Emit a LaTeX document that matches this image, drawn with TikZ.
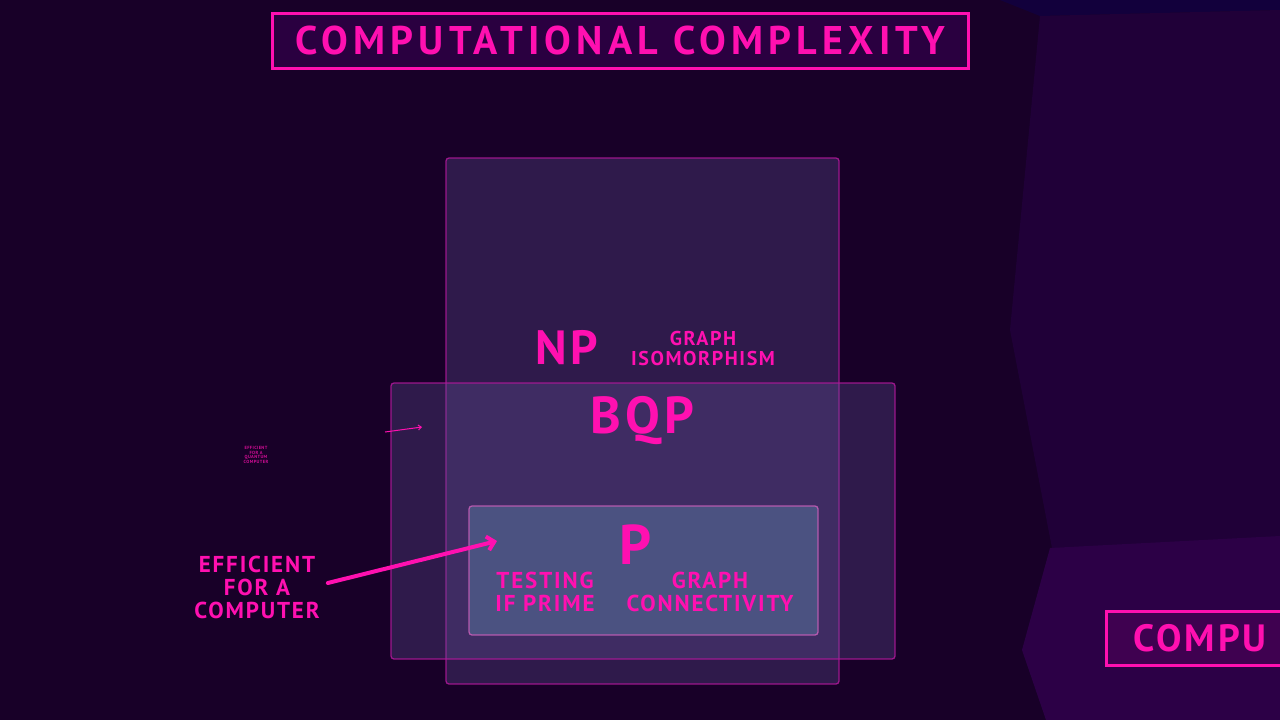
\documentclass[tikz,border=0pt]{standalone}
\usepackage{fontspec}
\setmainfont{PT Sans}
\usetikzlibrary{arrows.meta,positioning}

\definecolor{bgdark}{HTML}{180028}
\definecolor{topband}{HTML}{12003C}
\definecolor{panelhi}{HTML}{200038}
\definecolor{panellow}{HTML}{2C0046}
\definecolor{neonpink}{HTML}{FF10B0}
\definecolor{titlefill}{HTML}{2A0040}
\definecolor{classfill}{RGB}{101,87,157}
\definecolor{pfill}{RGB}{87,120,160}
\definecolor{boxedge}{HTML}{B0189A}

\newcommand{\sz}[1]{\fontsize{#1}{#1}\selectfont\addfontfeature{LetterSpace=8}}

\tikzset{
  neon/.style={text=neonpink, font=\bfseries\sz{#1}, inner sep=0pt, align=center},
  classbox/.style={draw=boxedge, draw opacity=0.85, line width=1.3pt,
    rounded corners=3pt, fill=classfill, fill opacity=0.3, inner sep=0pt},
  framebox/.style={draw=neonpink, line width=3pt, fill=titlefill, inner sep=0pt},
  pointer/.style={neonpink, line width=4pt, line cap=round,
    -{Straight Barb[length=7pt, width=14pt, line width=4pt]}},
  tinypointer/.style={neonpink, line width=1pt, -{Straight Barb[length=3pt, width=5pt]}},
}

\begin{document}
\begin{tikzpicture}[x=1pt, y=-1pt]
    \useasboundingbox (0,0) rectangle (1280,720);
    \clip (0,0) rectangle (1280,720);

    % --- BACKGROUND ---
    \fill[bgdark] (0,0) rectangle (1280,720);
    \fill[topband] (1000,0) -- (1280,0) -- (1280,10) -- (1040,16) -- cycle;
    \fill[panelhi] (1040,16) -- (1280,10) -- (1280,540) -- (1052,548)
        -- (1010,330) -- cycle;
    \fill[panellow] (1050,548) -- (1280,536) -- (1280,720) -- (1046,720)
        -- (1022,650) -- cycle;

    % --- TITLE ---
    \node[framebox, minimum width=696pt, minimum height=55pt, text=neonpink,
        font=\bfseries\fontsize{40}{40}\selectfont\addfontfeature{LetterSpace=13}]
        (titlebox) at (620,40.5) {COMPUTATIONAL COMPLEXITY};

    % --- CLASS BOXES ---
    \node[classbox, minimum width=393pt, minimum height=526pt] (npbox) at (642.5,421) {};
    \node[classbox, minimum width=504pt, minimum height=276pt] (bqpbox) at (643,521) {};
    \node[classbox, fill=pfill, fill opacity=0.5, draw=boxedge!70!white,
        minimum width=349pt, minimum height=129pt] (pbox) at (643.5,570.5) {};

    % --- LABELS ---
    \node[neon=48] (nplabel) at (567,348) {NP};
    \node[neon=20] (isomorph) at (703,348) {GRAPH\\ISOMORPHISM};
    \node[neon=52] (bqplabel) at (642,421) {BQP};
    \node[neon=56] (plabel) at (636,545) {P};
    \node[neon=23] (prime) at (545,592) {TESTING\\IF PRIME};
    \node[neon=23] (connect) at (710,592) {GRAPH\\CONNECTIVITY};

    % --- SIDE NOTES ---
    \node[neon=23] (efficient) at (257,587) {EFFICIENT\\FOR A\\COMPUTER};
    \coordinate (ptip) at (497,541);
    \draw[pointer] ([xshift=8pt, yshift=4pt]efficient.east) -- (ptip);

    \node[neon=4.5, text=neonpink!80!bgdark] (qnote) at (256,455)
        {EFFICIENT\\FOR A\\QUANTUM\\COMPUTER};
    \coordinate (qa) at (385,432);
    \coordinate (qb) at (422,427);
    \draw[tinypointer] (qa) -- (qb);

    % --- NEXT SLIDE EDGE ---
    \node[framebox, fill=panellow!70!neonpink!30!panellow, minimum width=200pt,
        minimum height=54pt, anchor=west] (sidebox) at (1105,638) {};
    \node[neon=38, anchor=west] (sidetitle) at (1133,638) {COMPU};
\end{tikzpicture}
\end{document}
